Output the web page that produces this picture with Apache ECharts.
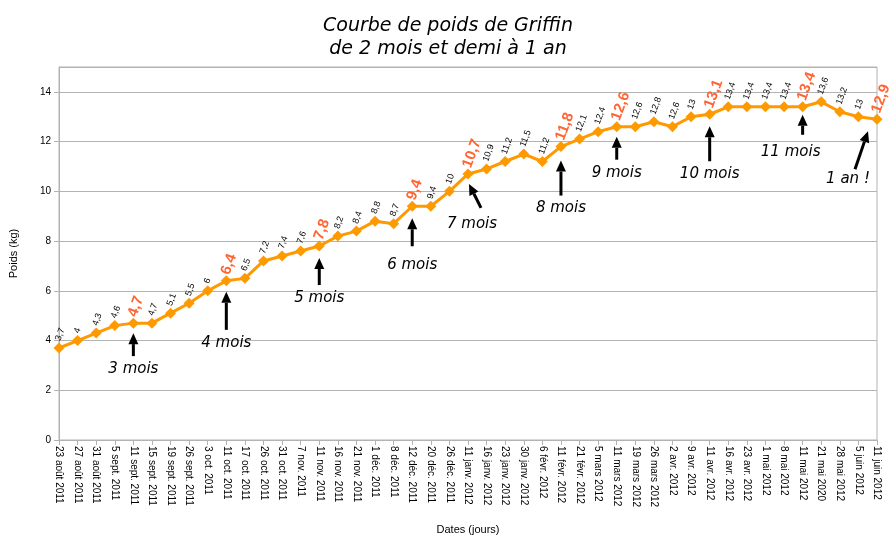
<!DOCTYPE html><html><head><meta charset="utf-8"><script src="https://cdn.jsdelivr.net/npm/echarts@6/dist/echarts.min.js"></script></head><body style="margin:0;background:#fff"><div id="c" style="width:896px;height:541px"></div><script>
const dates=["23 août 2011","27 août 2011","31 août 2011","5 sept. 2011","11 sept. 2011","15 sept. 2011","19 sept. 2011","26 sept. 2011","3 oct. 2011","11 oct. 2011","17 oct. 2011","26 oct. 2011","31 oct. 2011","7 nov. 2011","11 nov. 2011","16 nov. 2011","21 nov. 2011","1 déc. 2011","8 déc. 2011","12 déc. 2011","20 déc. 2011","26 déc. 2011","11 janv. 2012","16 janv. 2012","23 janv. 2012","30 janv. 2012","6 févr. 2012","11 févr. 2012","21 févr. 2012","5 mars 2012","11 mars 2012","19 mars 2012","26 mars 2012","2 avr. 2012","9 avr. 2012","11 avr. 2012","16 avr. 2012","23 avr. 2012","1 mai 2012","8 mai 2012","11 mai 2012","21 mai 2020","28 mai 2012","5 juin 2012","11 juin 2012"];
const weights=[3.7,4,4.3,4.6,4.7,4.7,5.1,5.5,6,6.4,6.5,7.2,7.4,7.6,7.8,8.2,8.4,8.8,8.7,9.4,9.4,10,10.7,10.9,11.2,11.5,11.2,11.8,12.1,12.4,12.6,12.6,12.8,12.6,13,13.1,13.4,13.4,13.4,13.4,13.4,13.6,13.2,13,12.9];
const milestoneIdx=[4,9,14,19,22,27,30,35,40,44];
const milestoneText=["3 mois","4 mois","5 mois","6 mois","7 mois","8 mois","9 mois","10 mois","11 mois","1 an !"];
const arrowGeo=[[0,10,0,33,0,46],[0,11,0,49,0,62],[0,12,0,39,0,52],[0,12,0,40,0,59],[1,10,13,34,4,50],[0,14,0,49,0,62],[0,10,0,33,0,46],[0,12,0,47,0,60],[0,8,0,28,-12,45],[-9,12,-22,50,-29,60]];
const chart=echarts.init(document.getElementById('c'));
const data=weights.map((v,i)=>{
  const m=milestoneIdx.includes(i);
  return {value:v,label:m?{fontSize:15,color:'#ff6633',fontWeight:'bold',distance:4}:{}};
});
chart.setOption({
  animation:false,
  title:{text:'Courbe de poids de Griffin\nde 2 mois et demi à 1 an',left:'center',top:10,textStyle:{fontFamily:'DejaVu Sans',fontStyle:'italic',fontSize:19,fontWeight:'normal',lineHeight:23,color:'#000'}},
  grid:{left:58,right:19,top:67,bottom:101,show:true,borderColor:'#b3b3b3',borderWidth:1},
  xAxis:{type:'category',data:dates,boundaryGap:false,name:'Dates (jours)',nameLocation:'middle',nameGap:84,nameTextStyle:{fontSize:11,fontFamily:'Liberation Sans',color:'#000'},
    axisLine:{lineStyle:{color:'#b3b3b3'}},axisTick:{show:true,length:5,lineStyle:{color:'#b3b3b3'}},
    axisLabel:{rotate:-90,interval:0,fontSize:10,color:'#000',fontFamily:'Liberation Sans',margin:6},splitLine:{show:false}},
  yAxis:{type:'value',min:0,max:15,interval:2,name:'Poids (kg)',nameLocation:'middle',nameGap:40,nameTextStyle:{fontSize:11,fontFamily:'Liberation Sans',color:'#000'},
    axisLine:{show:true,lineStyle:{color:'#b3b3b3'}},axisTick:{show:true,length:5,lineStyle:{color:'#b3b3b3'}},
    axisLabel:{showMaxLabel:false,fontSize:10,color:'#000',fontFamily:'Liberation Sans'},splitLine:{lineStyle:{color:'#b3b3b3'}}},
  series:[{type:'line',data:data,symbol:'diamond',symbolSize:11,lineStyle:{color:'#ff9900',width:3},itemStyle:{color:'#ff9900'},
    label:{show:true,position:'top',rotate:70,align:'left',verticalAlign:'middle',offset:[-3,0],fontSize:9,color:'#000',fontFamily:'Liberation Sans',formatter:p=>String(p.value).replace('.',',')}}]
});
const g=[];
milestoneIdx.forEach((idx,k)=>{
  const p=chart.convertToPixel({xAxisIndex:0,yAxisIndex:0},[idx,weights[idx]]);
  const a=arrowGeo[k];
  const tx=p[0]+a[0],ty=p[1]+a[1],sx=p[0]+a[2],sy=p[1]+a[3];
  const ang=Math.atan2(ty-sy,tx-sx),L=11,W=5;
  const bx=tx-L*Math.cos(ang),by=ty-L*Math.sin(ang);
  const nx=-Math.sin(ang),ny=Math.cos(ang);
  g.push({type:'line',shape:{x1:sx,y1:sy,x2:bx,y2:by},style:{stroke:'#000',lineWidth:3}});
  g.push({type:'polygon',shape:{points:[[tx,ty],[bx+nx*W,by+ny*W],[bx-nx*W,by-ny*W]]},style:{fill:'#000'}});
  g.push({type:'text',x:p[0]+a[4],y:p[1]+a[5],style:{text:milestoneText[k],align:'center',verticalAlign:'middle',font:'italic 15px "DejaVu Sans"',fill:'#000'}});
});
chart.setOption({graphic:g});
</script></body></html>
